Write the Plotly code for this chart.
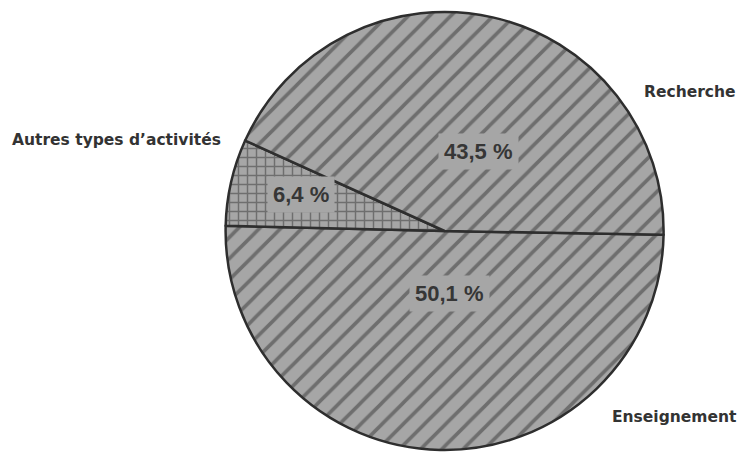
import plotly.graph_objects as go

# Répartition des activités (en %)
categories = ["Enseignement", "Autres types d’activités", "Recherche"]
shares = [50.1, 6.4, 43.5]
hatches = ["/", "+", "/"]

FILL = "#a6a6a6"
INK = "#363636"


def fr_pct(v):
    return f"{v:.1f}".replace(".", ",") + " %"


fig = go.Figure(
    go.Pie(
        labels=categories,
        values=shares,
        sort=False,
        direction="clockwise",
        rotation=91,
        textinfo="none",
        hoverinfo="label+percent",
        showlegend=False,
        domain=dict(x=[0.303, 0.897], y=[0.0066, 0.9735]),
        marker=dict(
            colors=[FILL] * 3,
            line=dict(color="#2e2e2e", width=2.5),
            pattern=dict(
                shape=hatches,
                fgcolor=INK,
                bgcolor=FILL,
                size=[15, 9, 15],
                solidity=[0.24, 0.3, 0.24],
                fillmode="overlay",
            ),
        ),
    )
)

# value labels inside the slices, on a plain patch that hides the hatching
inner_pos = {
    "Enseignement": (0.606, 0.311),
    "Autres types d’activités": (0.406, 0.570),
    "Recherche": (0.646, 0.706),
}
for cat, val in zip(categories, shares):
    x, y = inner_pos[cat]
    fig.add_annotation(
        x=x, y=y, xref="paper", yref="paper",
        text=fr_pct(val), showarrow=False,
        font=dict(family="Liberation Sans", size=22, color=INK, weight="bold"),
        bgcolor=FILL, borderpad=5,
    )

# category names around the pie
outer_pos = {
    "Recherche": (0.866, 0.797),
    "Autres types d’activités": (0.0135, 0.691),
    "Enseignement": (0.823, 0.0795),
}
for cat in categories:
    x, y = outer_pos[cat]
    fig.add_annotation(
        x=x, y=y, xref="paper", yref="paper",
        xanchor="left", yanchor="middle",
        text=cat, showarrow=False,
        font=dict(family="DejaVu Sans", size=15.5, color="#333333", weight="bold"),
    )

fig.update_layout(
    width=741,
    height=453,
    margin=dict(l=0, r=0, t=0, b=0),
    paper_bgcolor="white",
    plot_bgcolor="white",
)

fig.write_html("out.html")
